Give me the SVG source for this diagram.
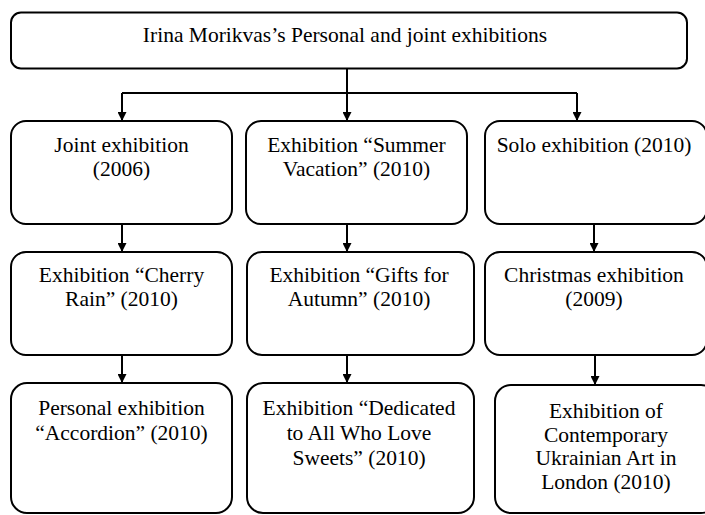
<svg xmlns="http://www.w3.org/2000/svg" width="705" height="515" viewBox="0 0 705 515">
<defs>
<style>
.box{fill:#fff;stroke:#000;stroke-width:2}
.t{font-family:"Liberation Serif","Times New Roman","DejaVu Serif",serif;font-size:21.5px;fill:#000;text-anchor:middle}
.c{fill:none;stroke:#000;stroke-width:2}
</style>
<marker id="ah" viewBox="0 0 10 10" refX="10" refY="5" markerWidth="9" markerHeight="9" markerUnits="userSpaceOnUse" orient="auto">
<path d="M0,0 L10,5 L0,10 z" fill="#000"/>
</marker>
</defs>
<rect width="705" height="515" fill="#fff"/>
<g id="connectors">
<path class="c" d="M347,68 V93"/>
<path class="c" d="M122,93 H577"/>
<path class="c" d="M122,93 V121" marker-end="url(#ah)"/>
<path class="c" d="M347,93 V121" marker-end="url(#ah)"/>
<path class="c" d="M577,93 V121" marker-end="url(#ah)"/>
<path class="c" d="M122,224 V252" marker-end="url(#ah)"/>
<path class="c" d="M347,224 V252" marker-end="url(#ah)"/>
<path class="c" d="M594,224 V252" marker-end="url(#ah)"/>
<path class="c" d="M122,355 V383" marker-end="url(#ah)"/>
<path class="c" d="M347,355 V383" marker-end="url(#ah)"/>
<path class="c" d="M595,355 V385" marker-end="url(#ah)"/>
</g>
<g id="root">
<rect class="box" x="11" y="12.5" width="676" height="56" rx="10"/>
<text class="t" x="345" y="42">Irina Morikvas’s Personal and joint exhibitions</text>
</g>
<g id="joint2006">
<rect class="box" x="11" y="121" width="221" height="103" rx="15"/>
<text class="t" x="121.5" y="152">Joint exhibition</text>
<text class="t" x="121.5" y="176">(2006)</text>
</g>
<g id="summer">
<rect class="box" x="246" y="121" width="221" height="103" rx="15"/>
<text class="t" x="356.5" y="152">Exhibition “Summer</text>
<text class="t" x="356.5" y="176">Vacation” (2010)</text>
</g>
<g id="solo">
<rect class="box" x="485" y="121" width="222" height="103" rx="15"/>
<text class="t" x="594" y="152">Solo exhibition (2010)</text>
</g>
<g id="cherry">
<rect class="box" x="11" y="252" width="221" height="103" rx="15"/>
<text class="t" x="121.5" y="282">Exhibition “Cherry</text>
<text class="t" x="121.5" y="306">Rain” (2010)</text>
</g>
<g id="gifts">
<rect class="box" x="247" y="252" width="227" height="103" rx="15"/>
<text class="t" x="359" y="282">Exhibition “Gifts for</text>
<text class="t" x="359" y="306">Autumn” (2010)</text>
</g>
<g id="christmas">
<rect class="box" x="485" y="252" width="222" height="103" rx="15"/>
<text class="t" x="594" y="282">Christmas exhibition</text>
<text class="t" x="594" y="306">(2009)</text>
</g>
<g id="accordion">
<rect class="box" x="11" y="383" width="221" height="130" rx="16"/>
<text class="t" x="121.5" y="415">Personal exhibition</text>
<text class="t" x="121.5" y="440">“Accordion” (2010)</text>
</g>
<g id="sweets">
<rect class="box" x="247" y="383" width="227" height="130" rx="16"/>
<text class="t" x="359" y="415">Exhibition “Dedicated</text>
<text class="t" x="359" y="440">to All Who Love</text>
<text class="t" x="359" y="465">Sweets” (2010)</text>
</g>
<g id="london">
<rect class="box" x="495" y="385" width="222" height="128" rx="16"/>
<text class="t" x="606" y="418">Exhibition of</text>
<text class="t" x="606" y="441.5">Contemporary</text>
<text class="t" x="606" y="465">Ukrainian Art in</text>
<text class="t" x="606" y="488.5">London (2010)</text>
</g>
</svg>
